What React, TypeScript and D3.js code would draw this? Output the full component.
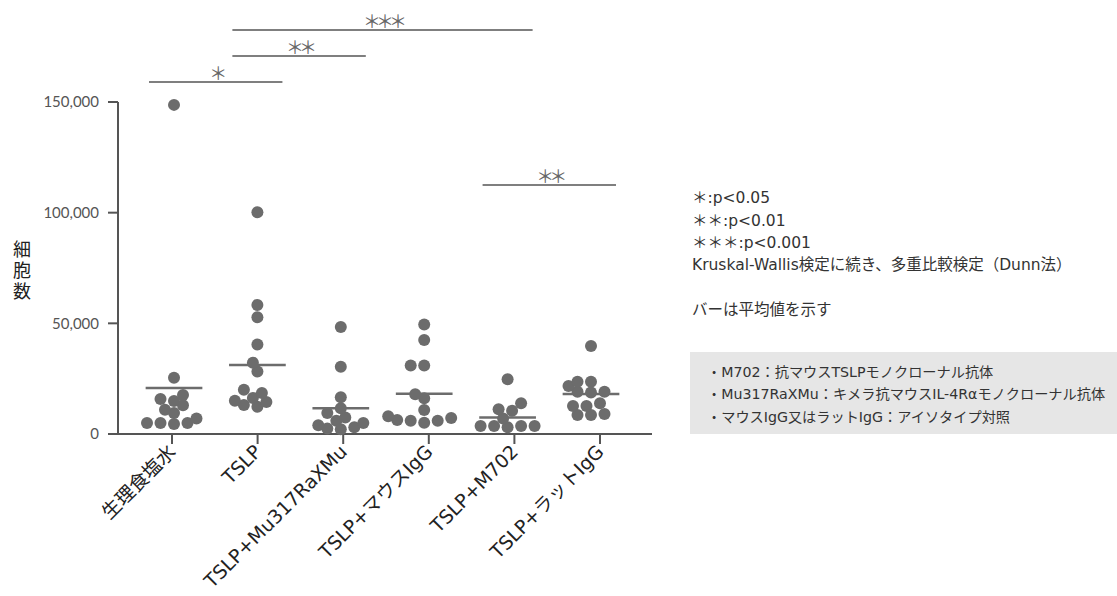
import * as d3 from "d3";

const groups = [
  "生理食塩水",
  "TSLP",
  "TSLP+Mu317RaXMu",
  "TSLP+マウスIgG",
  "TSLP+M702",
  "TSLP+ラットIgG",
];

const saline = [148700, 25400, 17600, 15800, 14900, 13000, 11000, 9500, 7000, 5000, 5000, 5000, 4500];
const tslp = [100200, 58300, 52700, 40400, 32200, 28200, 20000, 18500, 16300, 15000, 14500, 13100, 12300];
const mu317 = [48300, 30400, 16600, 11600, 9500, 7500, 6000, 5000, 4000, 3000, 2500, 2100];
const mouseIgG = [49500, 42500, 31000, 31000, 18000, 16100, 10800, 8000, 7200, 6300, 6000, 6000, 5100];
const m702 = [24700, 13900, 11200, 10500, 7000, 3600, 3600, 3600, 3600, 3000];
const ratIgG = [39800, 23600, 23600, 21700, 19100, 19100, 18700, 13900, 12700, 12700, 9000, 8600, 8600];

const series = [saline, tslp, mu317, mouseIgG, m702, ratIgG];
// bar = mean, as drawn in the figure
const means = [20800, 31200, 11600, 18200, 7400, 18100];

const yTicks = [0, 50000, 100000, 150000];

// significance brackets: from group, to group, height (in cell units), label
const brackets = [
  { from: 0, to: 1, level: 159000, label: "＊" },
  { from: 1, to: 2, level: 170800, label: "＊＊" },
  { from: 1, to: 4, level: 182500, label: "＊＊＊" },
  { from: 4, to: 5, level: 112500, label: "＊＊" },
];

const legendLines = [
  "＊:p<0.05",
  "＊＊:p<0.01",
  "＊＊＊:p<0.001",
  "Kruskal-Wallis検定に続き、多重比較検定（Dunn法）",
  "",
  "バーは平均値を示す",
];

const noteLines = [
  "・M702：抗マウスTSLPモノクローナル抗体",
  "・Mu317RaXMu：キメラ抗マウスIL-4Rαモノクローナル抗体",
  "・マウスIgG又はラットIgG：アイソタイプ対照",
];

const W = 1117;
const H = 596;
const FONT = "Lato, 'Noto Sans CJK JP', sans-serif";
const WIDE = "'DejaVu Sans', 'Noto Sans CJK JP', sans-serif";
const JP = "'Noto Sans CJK JP', sans-serif";
const DOT = "#6c6c6c";
const AXIS = "#555";

const R = 6;

// simple swarm: lowest values first, each dot pushed sideways until it clears the others
function swarm(values: number[], y: (v: number) => number) {
  const placed: { dx: number; cy: number }[] = [];
  const sorted = [...values].sort((a, b) => a - b);
  const step = 4.5;
  const minD = 9.5;
  for (const v of sorted) {
    const cy = y(v);
    for (let k = 0; k < 40; k++) {
      const dx = (k % 2 === 0 ? 1 : -1) * Math.ceil(k / 2) * step;
      const ok = placed.every((p) => Math.hypot(p.dx - dx, p.cy - cy) >= minD);
      if (ok) {
        placed.push({ dx, cy });
        break;
      }
    }
  }
  return placed;
}

export default function App() {
  const y = d3.scaleLinear().domain([0, 150000]).range([434, 102]);
  // axis ticks/labels
  const xAxis = d3.scalePoint<string>().domain(groups).range([172, 600]);
  // columns of dots sit slightly tighter than the tick marks in the figure
  const xCol = d3.scalePoint<string>().domain(groups).range([174, 591]);
  const step = xCol.step();
  const fmt = d3.format(",");

  return (
    <div style={{ position: "absolute", left: 0, top: 0 }}>
      <svg width={W} height={H} style={{ display: "block", background: "#fff" }}>
        {/* y axis */}
        <line x1={118} x2={118} y1={y(0)} y2={y(150000)} stroke={AXIS} strokeWidth={2} />
        {yTicks.map((t) => (
          <g key={t}>
            <line x1={108} x2={118} y1={y(t)} y2={y(t)} stroke={AXIS} strokeWidth={2} />
            <text
              x={99}
              y={y(t)}
              dy="0.35em"
              textAnchor="end"
              fontSize={15}
              fill="#555"
              fontFamily={FONT}
            >
              {fmt(t)}
            </text>
          </g>
        ))}
        {/* y title, stacked vertically */}
        <text
          x={22}
          y={240}
          fontSize={18}
          letterSpacing={3}
          fill="#222"
          fontFamily={JP}
          style={{ writingMode: "vertical-rl" }}
        >
          細胞数
        </text>

        {/* x axis */}
        <line x1={118} x2={652} y1={y(0)} y2={y(0)} stroke={AXIS} strokeWidth={2} />
        {groups.map((g) => (
          <g key={g}>
            <line x1={xAxis(g)} x2={xAxis(g)} y1={y(0)} y2={y(0) + 10} stroke={AXIS} strokeWidth={2} />
            <text
              transform={`translate(${xAxis(g)! + 5},${y(0) + 19}) rotate(-45)`}
              textAnchor="end"
              fontSize={19}
              fill="#222"
              fontFamily={WIDE}
            >
              {g}
            </text>
          </g>
        ))}

        {/* dots */}
        {series.map((vals, gi) => {
          const cx = xCol(groups[gi])!;
          return swarm(vals, y).map((p, i) => (
            <circle key={`${gi}-${i}`} cx={cx + p.dx} cy={p.cy} r={R} fill={DOT} />
          ));
        })}

        {/* mean bars */}
        {means.map((m, gi) => {
          const cx = xCol(groups[gi])!;
          return (
            <line
              key={`m-${gi}`}
              x1={cx - step * 0.34}
              x2={cx + step * 0.34}
              y1={y(m)}
              y2={y(m)}
              stroke={DOT}
              strokeWidth={2.5}
            />
          );
        })}

        {/* significance brackets */}
        {brackets.map((b, i) => {
          const x1 = xCol(groups[b.from])! - step * 0.3;
          const x2 = xCol(groups[b.to])! + step * 0.3;
          const by = y(b.level);
          return (
            <g key={`b-${i}`}>
              <line x1={x1} x2={x2} y1={by} y2={by} stroke="#555" strokeWidth={1.5} />
              <text
                x={(x1 + x2) / 2}
                y={by - 2}
                textAnchor="middle"
                fontSize={18}
                letterSpacing={-5}
                fill="#666"
                fontFamily={JP}
              >
                {b.label}
              </text>
            </g>
          );
        })}

        {/* legend text */}
        {legendLines.map((l, i) => (
          <text
            key={`l-${i}`}
            x={692}
            y={198 + i * 22.3}
            dy="0.35em"
            fontSize={15.5}
            fill="#333"
            fontFamily={WIDE}
          >
            {l}
          </text>
        ))}

        {/* note box */}
        <rect x={690} y={352} width={W - 690} height={82} fill="#e6e6e6" />
        {noteLines.map((l, i) => (
          <text
            key={`n-${i}`}
            x={707}
            y={372 + i * 22.5}
            dy="0.35em"
            fontSize={14.2}
            fill="#333"
            fontFamily={WIDE}
          >
            {l}
          </text>
        ))}
      </svg>
    </div>
  );
}
